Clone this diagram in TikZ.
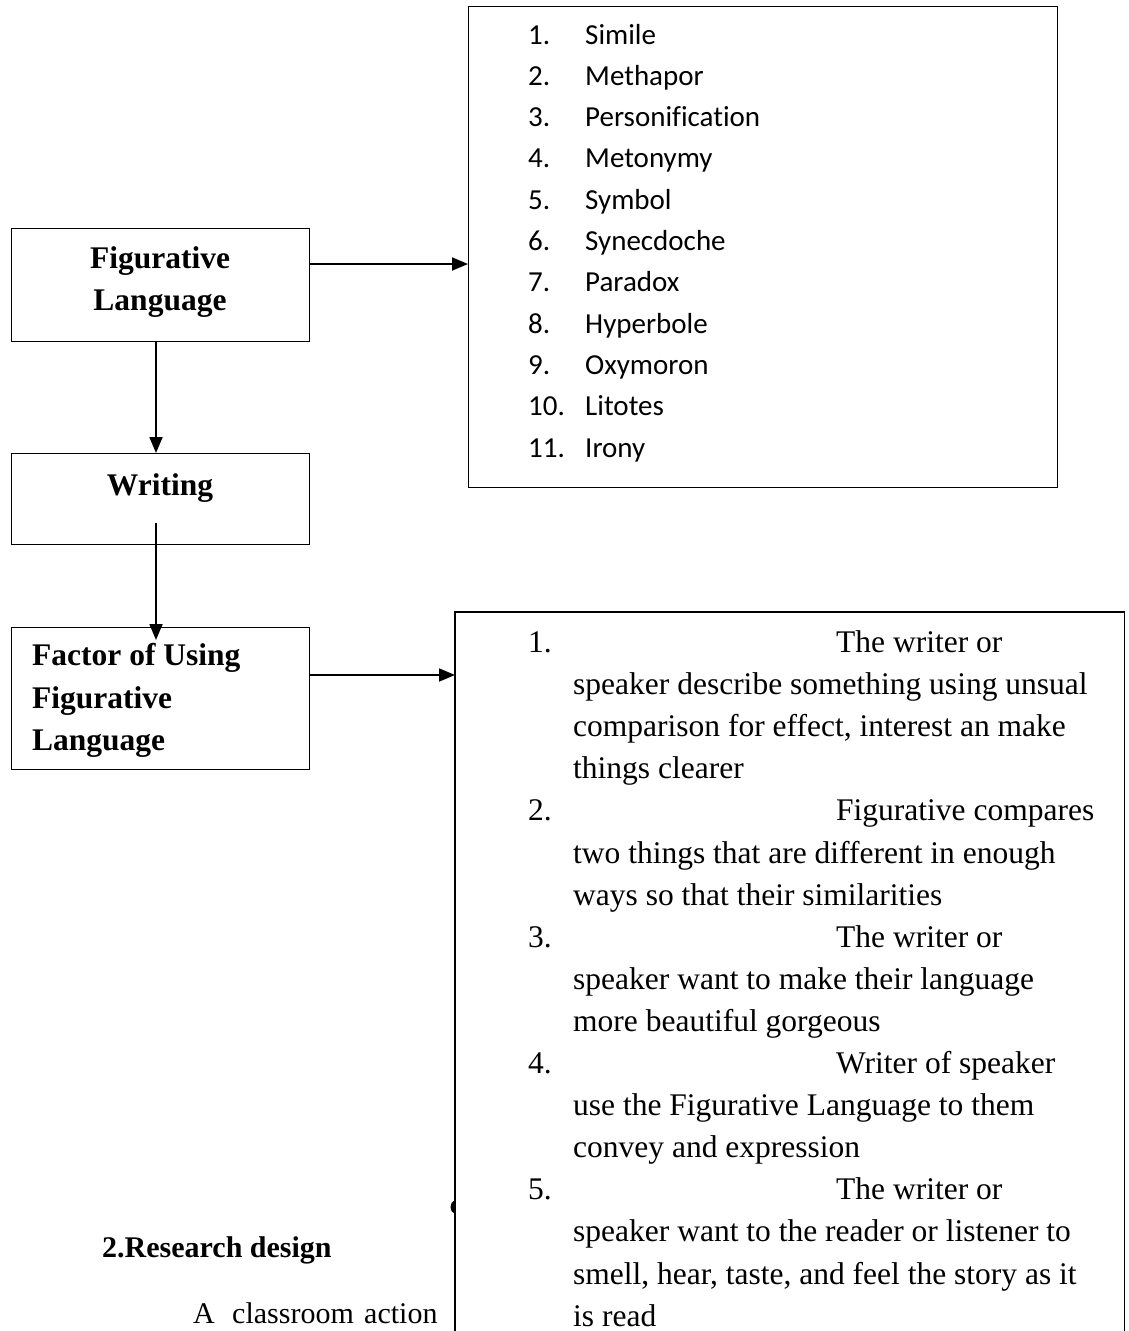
\documentclass[tikz,border=0pt]{standalone}
\usepackage{fontspec}
\setmainfont{Liberation Serif}
\newfontfamily\calfont[Ligatures=NoCommon]{Carlito}
\usetikzlibrary{arrows.meta}
\begin{document}
\begin{tikzpicture}[x=1pt,y=-1pt,
  box/.style={draw,line width=1.4pt,inner sep=0pt},
  arr/.style={line width=1.8pt,-{Triangle[length=16pt,width=13pt]}},
  lbl/.style={font=\fontsize{31.5}{36}\selectfont\bfseries,inner sep=0pt},
  txt/.style={font=\fontsize{31.5}{36}\selectfont,inner sep=0pt,anchor=base west},
  itm/.style={font=\calfont\fontsize{29}{34}\selectfont,inner sep=0pt,anchor=base west}]
\useasboundingbox (0,0) rectangle (1128,1331);
\fill[white] (0,0) rectangle (1128,1331);

% left boxes
\node[box,minimum width=298pt,minimum height=113pt,anchor=north west] (fig) at (11,228) {};
\node[lbl,anchor=base] (figA) at (160,268) {Figurative};
\node[lbl,anchor=base] (figB) at (160,310) {Language};

\node[box,minimum width=298pt,minimum height=91pt,anchor=north west] (wri) at (11,453) {};
\node[lbl,anchor=base] (wriA) at (160,495) {Writing};

\node[box,minimum width=298pt,minimum height=142pt,anchor=north west] (fac) at (11,627) {};
\node[lbl,anchor=base west] (facA) at (32,665) {Factor of Using};
\node[lbl,anchor=base west] (facB) at (32,708) {Figurative};
\node[lbl,anchor=base west] (facC) at (32,750) {Language};

% top right list box
\node[box,minimum width=589pt,minimum height=481pt,anchor=north west] (list) at (468,6) {};
\foreach \n/\t [count=\i from 0] in {1/Simile,2/Methapor,3/Personification,4/Metonymy,5/Symbol,6/Synecdoche,7/Paradox,8/Hyperbole,9/Oxymoron,10/Litotes,11/Irony}{
  \node[itm] (ln\i) at (528,44+41.3*\i) {\n.};
  \node[itm] (lt\i) at (585,44+41.3*\i) {\t};
}

% bottom right factors box (open at bottom)
\node[inner sep=0pt,minimum width=669pt,minimum height=719pt,anchor=north west] (fcs) at (455,612) {};
\draw[line width=1.4pt] (fcs.south west) -- (fcs.north west) -- (fcs.north east) -- (fcs.south east);

\foreach \k/\x/\t in {
 0/528/{1.}, 0/836/{The writer or},
 1/573/{speaker describe something using unsual},
 2/573/{comparison for effect, interest an make},
 3/573/{things clearer},
 4/528/{2.}, 4/836/{Figurative compares},
 5/573/{two things that are different in enough},
 6/573/{ways so that their similarities},
 7/528/{3.}, 7/836/{The writer or},
 8/573/{speaker want to make their language},
 9/573/{more beautiful gorgeous},
 10/528/{4.}, 10/836/{Writer of speaker},
 11/573/{use the Figurative Language to them},
 12/573/{convey and expression},
 13/528/{5.}, 13/836/{The writer or},
 14/573/{speaker want to the reader or listener to},
 15/573/{smell, hear, taste, and feel the story as it},
 16/573/{is read}}{
  \node[txt] (f\k x\x) at (\x,652.5+42.1*\k) {\t};
}

% half dot on the box edge
\fill (455,1200) .. controls (449,1202) and (449,1212) .. (455,1214) -- cycle;

% text below
\node[font=\fontsize{30}{34}\selectfont\bfseries,inner sep=0pt,anchor=base west] (rd) at (102,1257) {2.Research design};
\node[txt,font=\fontsize{30}{34}\selectfont] (cA) at (193,1323) {A};
\node[txt,font=\fontsize{30}{34}\selectfont] (cB) at (232,1323) {classroom};
\node[txt,font=\fontsize{30}{34}\selectfont] (cC) at (364,1323) {action};

% connectors
\coordinate (a1s) at (fig.east |- 0,264);
\coordinate (a1e) at (list.west |- 0,264);
\draw[arr] (a1s) -- (a1e);
\coordinate (a2s) at (fig.south -| 156,0);
\coordinate (a2e) at (wri.north -| 156,0);
\draw[arr] (a2s) -- (a2e);
\coordinate (a3s) at (156,523);
\coordinate (a3e) at (156,640);
\draw[arr] (a3s) -- (a3e);
\coordinate (a4s) at (fac.east |- 0,675);
\coordinate (a4e) at (fcs.west |- 0,675);
\draw[arr] (a4s) -- (a4e);
\end{tikzpicture}
\end{document}
